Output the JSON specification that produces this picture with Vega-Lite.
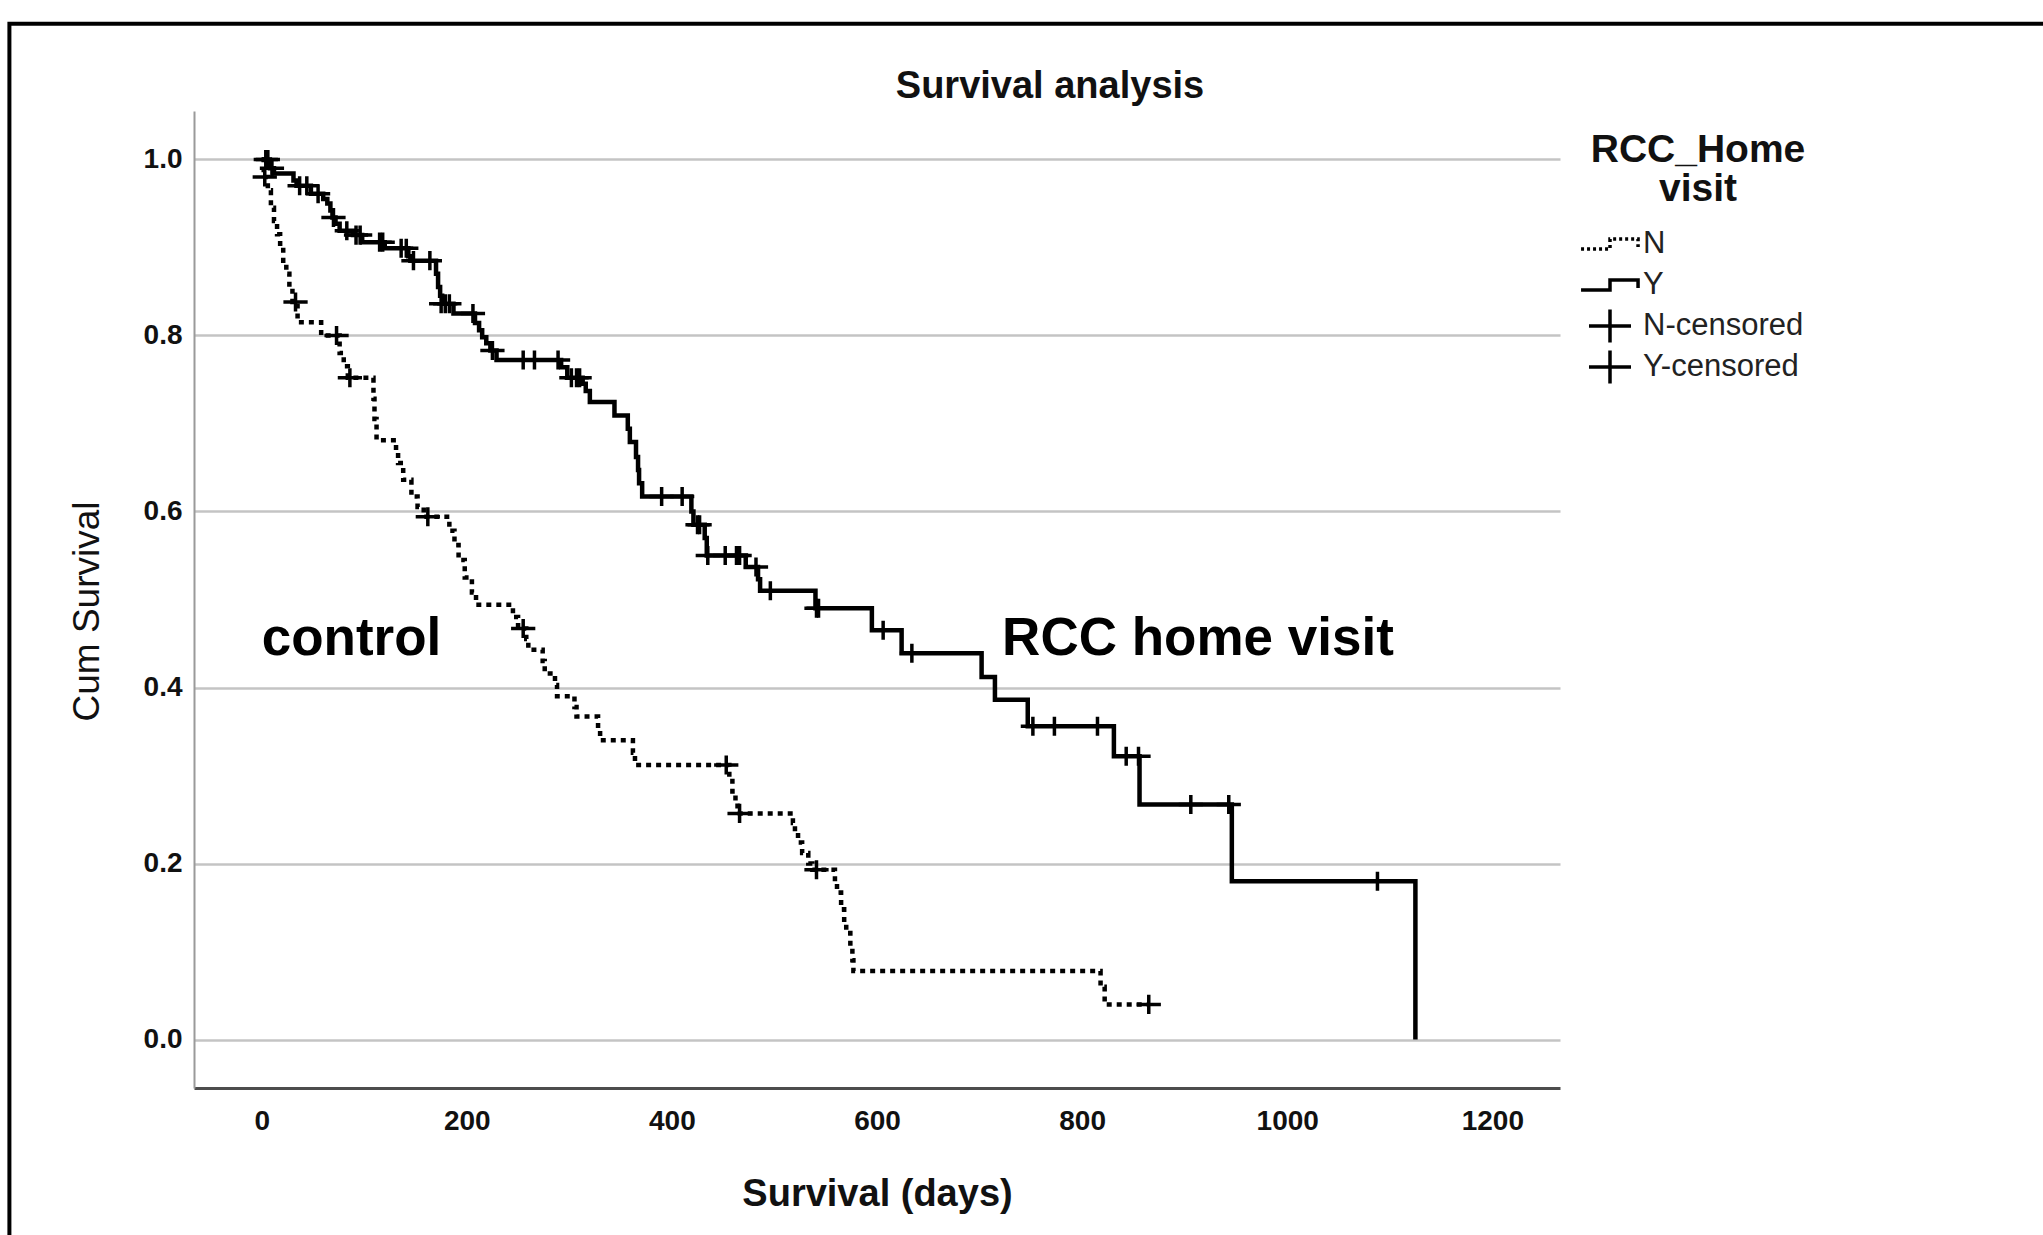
{
  "$schema": "https://vega.github.io/schema/vega-lite/v6.json",
  "width": 1366,
  "height": 977,
  "autosize": {"type": "none"},
  "padding": {"left": 194, "top": 111, "right": 483, "bottom": 147},
  "background": "white",
  "config": {"view": {"stroke": null}, "font": "Liberation Sans"},
  "title": {"text": "Survival analysis", "fontSize": 38, "fontWeight": "bold", "color": "#111", "anchor": "middle", "frame": "group", "dx": 173, "offset": -84},
  "datasets": {
    "curveN": [
      {"t": 0, "s": 1.0}, {"t": 2, "s": 0.98}, {"t": 6, "s": 0.965}, {"t": 9, "s": 0.945},
      {"t": 12, "s": 0.93}, {"t": 15, "s": 0.915}, {"t": 18, "s": 0.9}, {"t": 21, "s": 0.885},
      {"t": 24, "s": 0.87}, {"t": 27, "s": 0.855}, {"t": 30, "s": 0.838}, {"t": 35, "s": 0.815},
      {"t": 58, "s": 0.8}, {"t": 76, "s": 0.78}, {"t": 80, "s": 0.765}, {"t": 84, "s": 0.752},
      {"t": 109, "s": 0.728}, {"t": 110, "s": 0.705}, {"t": 112, "s": 0.681}, {"t": 131, "s": 0.668},
      {"t": 133, "s": 0.655}, {"t": 138, "s": 0.636}, {"t": 146, "s": 0.617}, {"t": 152, "s": 0.605},
      {"t": 158, "s": 0.594}, {"t": 183, "s": 0.578}, {"t": 188, "s": 0.562}, {"t": 192, "s": 0.545},
      {"t": 198, "s": 0.525}, {"t": 205, "s": 0.508}, {"t": 209, "s": 0.494}, {"t": 245, "s": 0.48},
      {"t": 250, "s": 0.467}, {"t": 258, "s": 0.455}, {"t": 260, "s": 0.443}, {"t": 274, "s": 0.43},
      {"t": 276, "s": 0.416}, {"t": 286, "s": 0.403}, {"t": 288, "s": 0.39}, {"t": 305, "s": 0.378},
      {"t": 307, "s": 0.367}, {"t": 328, "s": 0.353}, {"t": 330, "s": 0.34}, {"t": 362, "s": 0.326},
      {"t": 364, "s": 0.312}, {"t": 456, "s": 0.297}, {"t": 459, "s": 0.282}, {"t": 462, "s": 0.27},
      {"t": 464, "s": 0.257}, {"t": 518, "s": 0.246}, {"t": 520, "s": 0.235}, {"t": 523, "s": 0.224},
      {"t": 527, "s": 0.212}, {"t": 533, "s": 0.2}, {"t": 537, "s": 0.193}, {"t": 559, "s": 0.18},
      {"t": 561, "s": 0.167}, {"t": 565, "s": 0.148}, {"t": 568, "s": 0.133}, {"t": 570, "s": 0.121},
      {"t": 574, "s": 0.105}, {"t": 576, "s": 0.09}, {"t": 577, "s": 0.078}, {"t": 818, "s": 0.06},
      {"t": 822, "s": 0.04}, {"t": 865, "s": 0.04}
    ],
    "curveY": [
      {"t": 0, "s": 1.0}, {"t": 8, "s": 0.99}, {"t": 12, "s": 0.984}, {"t": 31, "s": 0.976},
      {"t": 34, "s": 0.97}, {"t": 48, "s": 0.961}, {"t": 60, "s": 0.955}, {"t": 64, "s": 0.95},
      {"t": 67, "s": 0.942}, {"t": 69, "s": 0.934}, {"t": 72, "s": 0.927}, {"t": 76, "s": 0.919},
      {"t": 89, "s": 0.914}, {"t": 98, "s": 0.906}, {"t": 120, "s": 0.899}, {"t": 143, "s": 0.89},
      {"t": 145, "s": 0.885}, {"t": 170, "s": 0.87}, {"t": 172, "s": 0.855}, {"t": 174, "s": 0.845},
      {"t": 176, "s": 0.836}, {"t": 187, "s": 0.825}, {"t": 208, "s": 0.814}, {"t": 212, "s": 0.806},
      {"t": 215, "s": 0.798}, {"t": 219, "s": 0.791}, {"t": 223, "s": 0.783}, {"t": 229, "s": 0.772},
      {"t": 292, "s": 0.764}, {"t": 298, "s": 0.752}, {"t": 313, "s": 0.745}, {"t": 316, "s": 0.737},
      {"t": 320, "s": 0.7245}, {"t": 344, "s": 0.709}, {"t": 357, "s": 0.694}, {"t": 359, "s": 0.679},
      {"t": 365, "s": 0.662}, {"t": 367, "s": 0.647}, {"t": 368, "s": 0.632}, {"t": 371, "s": 0.617},
      {"t": 419, "s": 0.6}, {"t": 421, "s": 0.585}, {"t": 432, "s": 0.57}, {"t": 434, "s": 0.55},
      {"t": 472, "s": 0.537}, {"t": 484, "s": 0.523}, {"t": 486, "s": 0.51}, {"t": 540, "s": 0.49},
      {"t": 595, "s": 0.465}, {"t": 624, "s": 0.439}, {"t": 702, "s": 0.412}, {"t": 715, "s": 0.386},
      {"t": 747, "s": 0.356}, {"t": 831, "s": 0.322}, {"t": 856, "s": 0.267}, {"t": 946, "s": 0.18},
      {"t": 1125, "s": 0.0}
    ],
    "censored": [
      {"legend": "N-censored", "t": 3, "s": 0.98}, {"legend": "N-censored", "t": 33, "s": 0.838}, {"legend": "N-censored", "t": 73, "s": 0.8},
      {"legend": "N-censored", "t": 86, "s": 0.752}, {"legend": "N-censored", "t": 162, "s": 0.594}, {"legend": "N-censored", "t": 255, "s": 0.467},
      {"legend": "N-censored", "t": 453, "s": 0.312}, {"legend": "N-censored", "t": 466, "s": 0.257}, {"legend": "N-censored", "t": 541, "s": 0.193},
      {"legend": "N-censored", "t": 865, "s": 0.04},
      {"legend": "Y-censored", "t": 4, "s": 1.0}, {"legend": "Y-censored", "t": 6, "s": 1.0}, {"legend": "Y-censored", "t": 10, "s": 0.99},
      {"legend": "Y-censored", "t": 37, "s": 0.97}, {"legend": "Y-censored", "t": 44, "s": 0.97}, {"legend": "Y-censored", "t": 55, "s": 0.961},
      {"legend": "Y-censored", "t": 70, "s": 0.934}, {"legend": "Y-censored", "t": 83, "s": 0.919}, {"legend": "Y-censored", "t": 92, "s": 0.914},
      {"legend": "Y-censored", "t": 96, "s": 0.914}, {"legend": "Y-censored", "t": 115, "s": 0.906}, {"legend": "Y-censored", "t": 118, "s": 0.906},
      {"legend": "Y-censored", "t": 136, "s": 0.899}, {"legend": "Y-censored", "t": 141, "s": 0.899}, {"legend": "Y-censored", "t": 148, "s": 0.885},
      {"legend": "Y-censored", "t": 164, "s": 0.885}, {"legend": "Y-censored", "t": 175, "s": 0.836}, {"legend": "Y-censored", "t": 179, "s": 0.836},
      {"legend": "Y-censored", "t": 183, "s": 0.836}, {"legend": "Y-censored", "t": 206, "s": 0.825}, {"legend": "Y-censored", "t": 225, "s": 0.783},
      {"legend": "Y-censored", "t": 255, "s": 0.772}, {"legend": "Y-censored", "t": 266, "s": 0.772}, {"legend": "Y-censored", "t": 289, "s": 0.772},
      {"legend": "Y-censored", "t": 302, "s": 0.752}, {"legend": "Y-censored", "t": 307, "s": 0.752}, {"legend": "Y-censored", "t": 310, "s": 0.752},
      {"legend": "Y-censored", "t": 390, "s": 0.617}, {"legend": "Y-censored", "t": 410, "s": 0.617}, {"legend": "Y-censored", "t": 425, "s": 0.585},
      {"legend": "Y-censored", "t": 427, "s": 0.585}, {"legend": "Y-censored", "t": 435, "s": 0.55}, {"legend": "Y-censored", "t": 452, "s": 0.55},
      {"legend": "Y-censored", "t": 463, "s": 0.55}, {"legend": "Y-censored", "t": 466, "s": 0.55}, {"legend": "Y-censored", "t": 482, "s": 0.537},
      {"legend": "Y-censored", "t": 496, "s": 0.51}, {"legend": "Y-censored", "t": 541, "s": 0.49}, {"legend": "Y-censored", "t": 543, "s": 0.49},
      {"legend": "Y-censored", "t": 606, "s": 0.465}, {"legend": "Y-censored", "t": 634, "s": 0.439}, {"legend": "Y-censored", "t": 752, "s": 0.356},
      {"legend": "Y-censored", "t": 773, "s": 0.356}, {"legend": "Y-censored", "t": 815, "s": 0.356}, {"legend": "Y-censored", "t": 843, "s": 0.322},
      {"legend": "Y-censored", "t": 855, "s": 0.322}, {"legend": "Y-censored", "t": 906, "s": 0.267}, {"legend": "Y-censored", "t": 943, "s": 0.267},
      {"legend": "Y-censored", "t": 1088, "s": 0.18}
    ],
    "labels": [
      {"t": 0, "s": 0.455, "label": "control"},
      {"t": 722, "s": 0.455, "label": "RCC home visit"}
    ]
  },
  "layer": [
    {
      "data": {"values": [{}]},
      "mark": {"type": "rect", "fill": "transparent", "stroke": "black", "strokeWidth": 4, "clip": false},
      "encoding": {
        "x": {"datum": -246, "type": "quantitative"},
        "x2": {"datum": 1800},
        "y": {"datum": 1.154, "type": "quantitative"},
        "y2": {"datum": -0.3}
      }
    },
    {
      "data": {"name": "curveN"},
      "mark": {"type": "line", "interpolate": "step-after", "strokeWidth": 4.5, "color": "black", "strokeCap": "butt", "strokeDash": [5, 5]},
      "encoding": {
        "x": {"field": "t", "type": "quantitative", "scale": {"domain": [-66, 1266], "nice": false, "zero": false},
          "axis": {"values": [0, 200, 400, 600, 800, 1000, 1200], "format": "d", "title": "Survival (days)", "grid": false, "ticks": false,
            "domainColor": "#4d4d4d", "domainWidth": 3, "labelFontSize": 28, "labelFontWeight": "bold", "labelColor": "#111",
            "labelPadding": 19, "titleFontSize": 38, "titleFontWeight": "bold", "titleColor": "#111", "titlePadding": 40}},
        "y": {"field": "s", "type": "quantitative", "scale": {"domain": [-0.055, 1.055], "nice": false, "zero": false},
          "axis": {"values": [0, 0.2, 0.4, 0.6, 0.8, 1.0], "format": ".1f", "title": "Cum Survival", "grid": true,
            "gridColor": "#c4c4c4", "gridWidth": 2.5, "ticks": false, "domainColor": "#9a9a9a", "domainWidth": 2,
            "labelFontSize": 28, "labelFontWeight": "bold", "labelColor": "#111", "labelPadding": 12,
            "titleFontSize": 37, "titleFontWeight": "normal", "titleColor": "#111", "titlePadding": 37, "titleY": 500}}
      }
    },
    {
      "data": {"name": "curveY"},
      "mark": {"type": "line", "interpolate": "step-after", "strokeWidth": 4.5, "color": "black", "strokeCap": "butt"},
      "encoding": {
        "x": {"field": "t", "type": "quantitative"},
        "y": {"field": "s", "type": "quantitative"}
      }
    },
    {
      "data": {"name": "censored"},
      "mark": {"type": "point", "filled": false, "color": "black", "strokeWidth": 3.5, "size": 300, "opacity": 1},
      "encoding": {
        "x": {"field": "t", "type": "quantitative"},
        "y": {"field": "s", "type": "quantitative"},
        "shape": {"field": "legend", "type": "nominal",
          "scale": {"domain": ["N", "Y", "N-censored", "Y-censored"],
            "range": ["M0,-1.1M0,1.1M-1.93,0.33L0,0.33L0,-0.33L1.87,-0.33L1.87,0.2", "M0,-1.1M0,1.1M-1.93,0.33L0,0.33L0,-0.33L1.87,-0.33L1.87,0.2", "M-1.4,0L1.4,0M0,-1.1L0,1.1", "M-1.4,0L1.4,0M0,-1.1L0,1.1"]},
          "legend": {"title": ["RCC_Home", "visit"], "orient": "none", "legendX": 1397, "legendY": 20,
            "titleFontSize": 39, "titleFontWeight": "bold", "titleColor": "#111", "titleAnchor": "middle", "titleAlign": "center",
            "titleLineHeight": 39, "titlePadding": 18, "titleLimit": 600, "labelFontSize": 31, "labelColor": "#222", "labelOffset": 16, "labelLimit": 600,
            "symbolSize": 900, "symbolStrokeWidth": 3.5, "symbolStrokeColor": "black", "symbolFillColor": "transparent", "rowPadding": -8}},
        "strokeDash": {"field": "legend", "type": "nominal",
          "scale": {"domain": ["N", "Y", "N-censored", "Y-censored"], "range": [[3, 3], [1, 0], [1, 0], [1, 0]]},
          "legend": {"title": ["RCC_Home", "visit"], "orient": "none", "legendX": 1397, "legendY": 20,
            "titleFontSize": 39, "titleFontWeight": "bold", "titleColor": "#111", "titleAnchor": "middle", "titleAlign": "center",
            "titleLineHeight": 39, "titlePadding": 18, "titleLimit": 600, "labelFontSize": 31, "labelColor": "#222", "labelOffset": 16, "labelLimit": 600,
            "symbolSize": 900, "symbolStrokeWidth": 3.5, "symbolStrokeColor": "black", "symbolFillColor": "transparent", "rowPadding": -8}}
      }
    },
    {
      "data": {"name": "labels"},
      "mark": {"type": "text", "align": "left", "baseline": "middle", "fontSize": 53, "fontWeight": "bold", "color": "black"},
      "encoding": {
        "x": {"field": "t", "type": "quantitative"},
        "y": {"field": "s", "type": "quantitative"},
        "text": {"field": "label"}
      }
    }
  ]
}
